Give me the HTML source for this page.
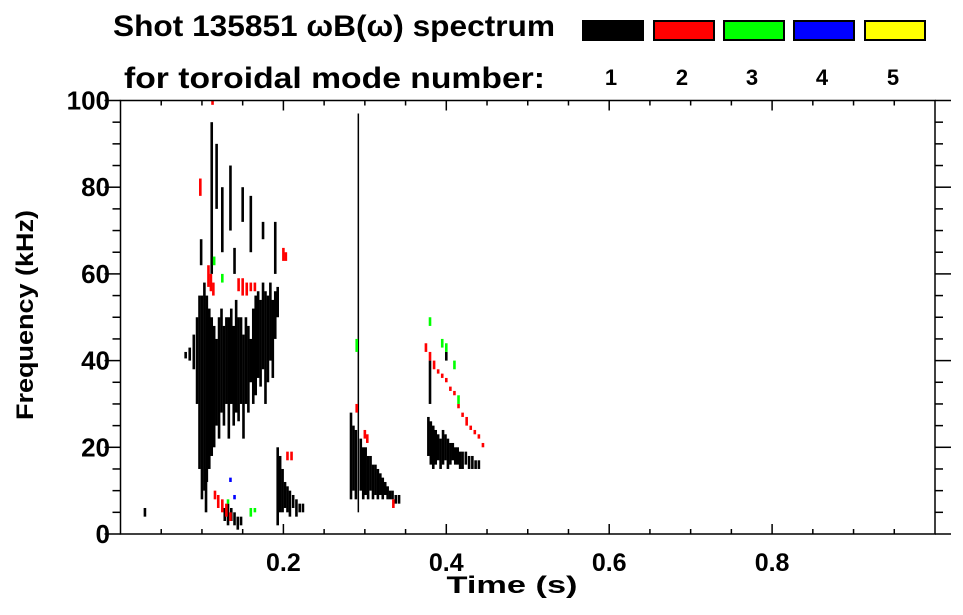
<!DOCTYPE html>
<html><head><meta charset="utf-8"><style>
body{margin:0;background:#fff;}
svg{display:block;font-family:"Liberation Sans",sans-serif;font-weight:bold;}
</style></head><body>
<svg id="chart" width="963" height="615" viewBox="0 0 963 615">
<text x="113" y="36" font-size="30" textLength="442" lengthAdjust="spacingAndGlyphs">Shot 135851 ωB(ω) spectrum</text>
<text x="124" y="88" font-size="30" textLength="421" lengthAdjust="spacingAndGlyphs">for toroidal mode number:</text>
<g id="legend"></g>
<g id="marks"></g>
<g id="axes"></g>
<text x="512" y="593" font-size="24" text-anchor="middle" textLength="131" lengthAdjust="spacingAndGlyphs">Time (s)</text>
<text transform="translate(33,315) rotate(-90)" font-size="24" text-anchor="middle" textLength="210" lengthAdjust="spacingAndGlyphs">Frequency (kHz)</text>
</svg>
<script>
const modeLabels=["1","2","3","4","5"];
const modeColors=["#000000","#ff0000","#00ff00","#0000ff","#ffff00"];
const xTicks=[0.2,0.4,0.6,0.8];
const yTicks=[0,20,40,60,80,100];
// streaks: [time s, freq low kHz, freq high kHz]
const mode1=[[.080,40.5,42],[.085,40,43],[.090,38,46],[.094,30,50],[.097,15,55],[.100,8,55],[.103,10,58],[.106,12,55],[.109,15,52],[.112,18,50],[.115,20,48],[.118,25,45],[.121,22,50],[.124,28,52],[.127,25,48],[.130,30,50],[.133,22,50],[.136,30,52],[.139,25,48],[.142,28,54],[.145,26,50],[.148,30,50],[.151,22,46],[.154,30,50],[.157,28,48],[.160,35,45],[.163,30,52],[.166,32,55],[.169,36,56],[.172,34,54],[.175,38,58],[.178,30,56],[.181,35,55],[.184,40,58],[.187,36,54],[.190,45,56],[.193,50,57],
[.112,60,95],[.118,75,90],[.125,65,80],[.135,70,85],[.150,72,80],[.160,65,78],[.175,68,72],[.190,60,72],[.105,5,15],[.099,62,68],[.140,60,66],
[.128,3,6],[.132,2,7],[.136,3,6],[.140,2,5],[.144,1,4],[.148,2,4],[.030,4,6],
[.193,2,20],[.196,5,18],[.199,5,15],[.202,6,12],[.205,5,11],[.208,4,10],[.212,6,9],[.216,4,8],[.220,5,7],[.224,5,7],
[.283,8,28],[.286,10,25],[.289,8,24],[.292,5,97],[.295,10,22],[.298,8,20],[.301,9,20],[.304,8,18],[.307,10,18],[.310,8,16],[.313,9,16],[.316,8,15],[.319,9,14],[.322,8,13],[.325,9,12],[.328,8,11],[.331,8,10],[.334,8,10],[.338,7,9],[.342,7,9],
[.378,18,27],[.381,16,26],[.384,15,25],[.387,16,24],[.390,17,23],[.393,15,22],[.396,16,24],[.399,17,23],[.402,15,22],[.405,16,21],[.408,17,21],[.411,16,20],[.414,16,20],[.417,15,19],[.420,15,19],[.424,16,19],[.428,15,18],[.432,15,18],[.436,15,17],[.440,15,17],[.380,30,40],[.400,40,42]];
const mode2=[[.108,57,62],[.111,56,60],[.114,55,58],[.145,56,59],[.150,55,59],[.155,55,58],[.160,56,58],[.165,56,58],[.200,63,66],[.203,63,65],[.116,8,10],[.120,6,9],[.125,5,8],[.130,4,7],[.135,3,5],[.210,17,19],[.205,17,19],[.290,28,30],[.300,22,24],[.303,21,23],[.335,6,8],[.375,42,44],[.380,40,42],[.385,38,40],[.390,37,38],[.395,36,37],[.400,35,36],[.405,33,34],[.410,32,33],[.415,29,30],[.420,27,28],[.425,25,27],[.430,24,25],[.435,23,24],[.440,22,23],[.445,20,21],[.113,99,100],[.098,78,82]];
const mode3=[[.115,62,64],[.125,58,60],[.132,7,8],[.160,4,6],[.165,5,6],[.290,42,45],[.395,43,45],[.400,42,44],[.410,38,40],[.380,48,50],[.415,30,32]];
const mode4=[[.140,8,9],[.135,12,13]];
const x0=120.5,x1=935,yb=534,yt=100.5;
const X=t=>x0+t*(x1-x0);
const Y=f=>yb-f/100*(yb-yt);
const NS="http://www.w3.org/2000/svg";
function mk(tag,attrs,parent){const e=document.createElementNS(NS,tag);for(const k in attrs)e.setAttribute(k,attrs[k]);parent.appendChild(e);return e;}
const marks=document.getElementById('marks');
[mode1,mode2,mode3,mode4].forEach((arr,mi)=>{
 arr.forEach(d=>{
  const w=(d[2]-d[1])>60?1.5:2.6;
  const r=mk('rect',{x:X(d[0])-w/2,y:Y(d[2]),width:w,height:Math.max(1.5,Y(d[1])-Y(d[2])),fill:modeColors[mi]},marks);
  
  
 });
});
const leg=document.getElementById('legend');
const lx=[582,653,723,793,864];
modeLabels.forEach((l,i)=>{
 const r=mk('rect',{x:lx[i]+1,y:21,width:60,height:19,fill:modeColors[i],stroke:'#000','stroke-width':2},leg);
 
 
 const t=mk('text',{x:lx[i]+29,y:85,'font-size':22,'text-anchor':'middle'},leg);
 t.textContent=l;
 
 
});
const ax=document.getElementById('axes');
const fr=mk('rect',{x:x0,y:yt,width:x1-x0,height:yb-yt,fill:'none',stroke:'#000','stroke-width':1.5},ax);


for(let v=0.05;v<1;v+=0.05){const x=X(v);const maj=Math.abs(v*5-Math.round(v*5))<1e-6;const L=maj?10:5;
 mk('line',{x1:x,y1:yb,x2:x,y2:yb-L,stroke:'#000','stroke-width':1.5},ax);
 mk('line',{x1:x,y1:yt,x2:x,y2:yt+L,stroke:'#000','stroke-width':1.5},ax);}
for(let v=0;v<=100;v+=5){const y=Y(v);const maj=v%20===0;const L=maj?16:8;
 mk('line',{x1:x0,y1:y,x2:x0-L,y2:y,stroke:'#000','stroke-width':1.5},ax);
 mk('line',{x1:x1,y1:y,x2:x1+L,y2:y,stroke:'#000','stroke-width':1.5},ax);}
xTicks.forEach(v=>{const t=mk('text',{x:X(v),y:571,'font-size':25,'text-anchor':'middle'},ax);t.textContent=v.toFixed(1);
 
 });
yTicks.forEach(v=>{const t=mk('text',{x:110,y:Y(v)+9,'font-size':26,'text-anchor':'end'},ax);t.textContent=v;
 
 });
</script>
</body></html>
